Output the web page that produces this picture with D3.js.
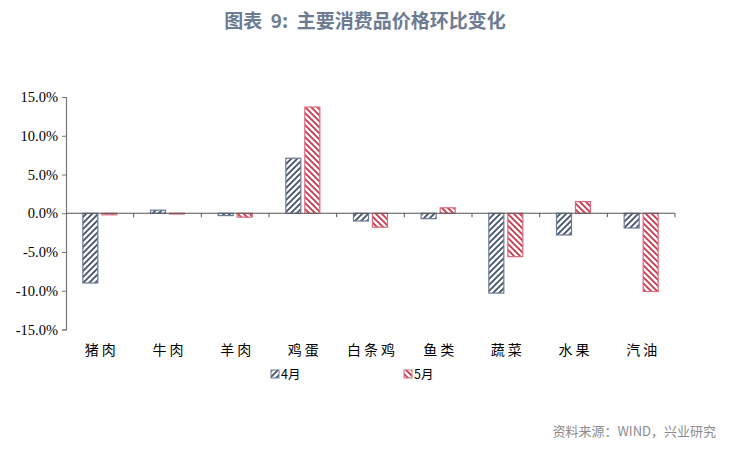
<!DOCTYPE html>
<html><head><meta charset="utf-8">
<script src="https://cdn.jsdelivr.net/npm/d3@7"></script>
<style>body{margin:0;background:#fff}</style>
</head><body>
<script>
var categories = ["猪肉","牛肉","羊肉","鸡蛋","白条鸡","鱼类","蔬菜","水果","汽油"];
var seriesNames = ["4月","5月"];
var apr = [-9.0, 0.4, -0.3, 7.1, -1.0, -0.7, -10.3, -2.8, -1.9];
var may = [-0.2, -0.1, -0.5, 13.7, -1.8, 0.7, -5.6, 1.5, -10.1];
var yTicks = [-15, -10, -5, 0, 5, 10, 15];

var W = 729, H = 454;
var colors = ["#44546a", "#c8374a"];
var svg = d3.select("body").append("svg").attr("width", W).attr("height", H);

// hatch patterns
var defs = svg.append("defs");
[["p0", "M-1,7 L7,-1 M-1,1 L1,-1 M5,7 L7,5", colors[0]], ["p1", "M-1,-1 L7,7 M5,-1 L7,1 M-1,5 L1,7", colors[1]]].forEach(function (p) {
    var pat = defs.append("pattern").attr("id", p[0]).attr("patternUnits", "userSpaceOnUse")
        .attr("width", 6).attr("height", 6);
    pat.append("rect").attr("width", 6).attr("height", 6).attr("fill", "#fff");
    pat.append("path").attr("d", p[1]).attr("stroke", p[2]).attr("stroke-width", 1.8);
});

svg.append("text").attr("x", 365).attr("y", 28).attr("text-anchor", "middle")
    .style("white-space", "pre")
    .attr("font-family", "Noto Sans CJK SC").attr("font-weight", "bold").attr("font-size", 19)
    .attr("fill", "#6d7b93").text("图表  9:  主要消费品价格环比变化");

var left = 66, right = 675;
var y = d3.scaleLinear().domain([-15, 15]).range([329.5, 97]);
var x = d3.scaleBand().domain(categories).range([left, right]);

var yAxis = svg.append("g").attr("transform", "translate(" + left + ",0)")
    .call(d3.axisLeft(y).tickValues(yTicks).tickSize(4).tickFormat(function (d) { return d.toFixed(1) + "%"; }));
yAxis.select(".domain").attr("stroke", "#777").attr("stroke-width", 1.2);
yAxis.selectAll(".tick line").attr("stroke", "#777");
yAxis.selectAll("text").attr("font-family", "Liberation Serif").attr("font-size", 14.5).attr("fill", "#000").attr("dx", -1);

var series = [apr, may];
var bw = 15;
series.forEach(function (vals, si) {
    svg.append("g").selectAll("rect").data(vals).enter().append("rect")
        .attr("x", function (d, i) { return x(categories[i]) + x.bandwidth() / 2 + (si === 0 ? -bw - 2 : 2); })
        .attr("y", function (d) { return y(Math.max(0, d)); })
        .attr("width", bw)
        .attr("height", function (d) { return Math.abs(y(d) - y(0)); })
        .attr("fill", "url(#p" + si + ")")
        .attr("stroke", si === 0 ? "#6b7a95" : "#d9687a").attr("stroke-width", 1.2);
});

// zero axis with ticks between categories
var xAxis = svg.append("g").attr("transform", "translate(0," + y(0) + ")");
xAxis.append("line").attr("x1", left).attr("x2", right).attr("stroke", "#555").attr("stroke-width", 1.2);
xAxis.selectAll(".t").data(d3.range(1, categories.length + 1)).enter().append("line")
    .attr("x1", function (d) { return left + d * x.step(); }).attr("x2", function (d) { return left + d * x.step(); })
    .attr("y1", 0).attr("y2", 4).attr("stroke", "#555");

svg.append("g").selectAll("text").data(categories).enter().append("text")
    .attr("x", function (d) { return x(d) + x.bandwidth() / 2 + 2; }).attr("y", 355)
    .attr("text-anchor", "middle").attr("font-family", "Noto Sans CJK SC").attr("font-size", 14)
    .attr("letter-spacing", 3).attr("fill", "#000").text(function (d) { return d; });

// legend
var lx = [271, 404];
seriesNames.forEach(function (n, i) {
    svg.append("rect").attr("x", lx[i]).attr("y", 370).attr("width", 8).attr("height", 8)
        .attr("fill", "url(#p" + i + ")").attr("stroke", i === 0 ? "#6b7a95" : "#d9687a");
    svg.append("text").attr("x", lx[i] + 10).attr("y", 379).attr("font-family", "Noto Sans CJK SC")
        .attr("font-size", 12.5).attr("fill", "#000").text(n);
});

svg.append("text").attr("x", 716).attr("y", 436).attr("text-anchor", "end")
    .attr("font-family", "Noto Sans CJK SC").attr("font-size", 13).attr("fill", "#8c8c8c")
    .text("资料来源：WIND，兴业研究");
</script>
</body></html>
